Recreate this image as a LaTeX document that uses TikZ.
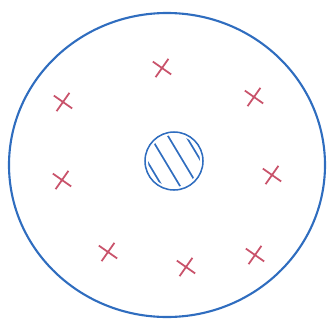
\documentclass[tikz,border=0pt]{standalone}
\usepackage{xcolor}
\usepackage{tikz}
\usetikzlibrary{shapes.misc, calc}
\definecolor{skBlue}{HTML}{2F6DBF}
\definecolor{skRed}{HTML}{C9536B}
\tikzset{
  outerring/.style={draw=skBlue, line width=1.8pt},
  core/.style={draw=skBlue, line width=1.3pt},
  hatch/.style={draw=skBlue, line width=1.4pt, line cap=round},
  xmark/.style={cross out, draw=skRed, line width=1.5pt, minimum size=12pt, inner sep=0pt, rotate=10}
}
\begin{document}
\begin{tikzpicture}[x=0.03cm, y=-0.03cm]
  \useasboundingbox (0,0) rectangle (329,324);
  % outer circle
  \draw[outerring] (167,165) ellipse [x radius=158, y radius=152];
  % hatched core
  \coordinate (c) at (174,161);
  \begin{scope}
    \clip (c) circle [radius=26];
    \foreach \d in {-27,-9,9,27}
      \draw[hatch] ($(c)+(\d,0)+(-24,-40)$) -- ($(c)+(\d,0)+(24,40)$);
  \end{scope}
  \draw[core] (c) circle [radius=29];
  % crosses
  \foreach \i/\p in {1/{(162,68)}, 2/{(63,102)}, 3/{(254,97)}, 4/{(62,180)},
                     5/{(272,175)}, 6/{(108,252)}, 7/{(186,267)}, 8/{(255,255)}}
    \node[xmark] (x\i) at \p {};
\end{tikzpicture}
\end{document}
